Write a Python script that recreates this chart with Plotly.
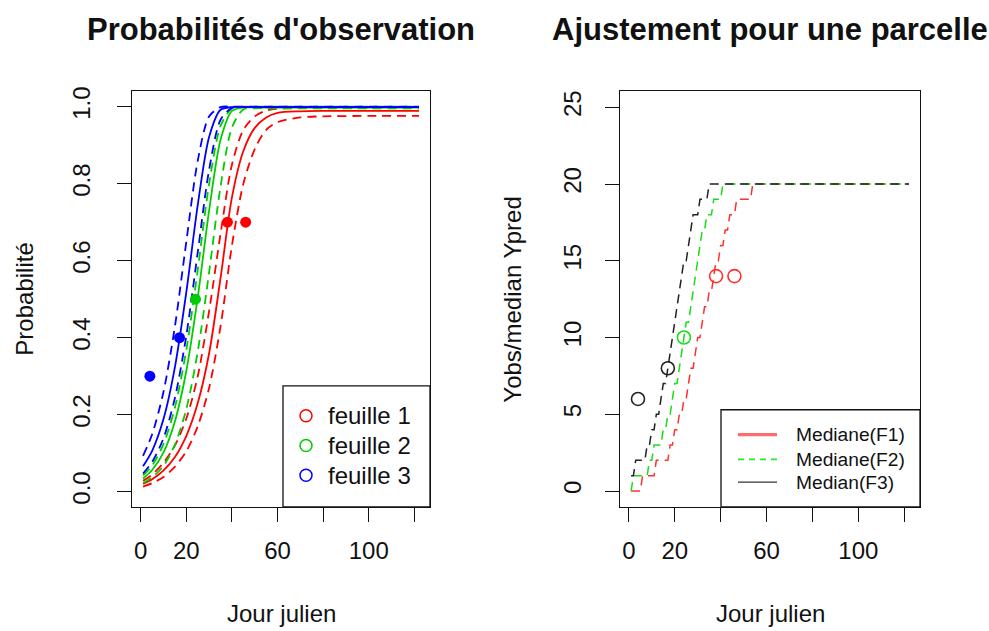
import plotly.graph_objects as go

# ---------------- data ----------------
days = [1, 5, 10, 15, 20, 25, 30, 35, 40, 45, 50, 55, 60, 70, 80, 100, 122]

# feuille 1 (red): upper quantile, median, lower quantile
f1_hi = [0.028, 0.044, 0.075, 0.120, 0.190, 0.300, 0.470, 0.670, 0.850, 0.940, 0.975, 0.990, 0.995, 0.997, 0.997, 0.997, 0.997]
f1_med = [0.020, 0.032, 0.055, 0.090, 0.145, 0.230, 0.360, 0.555, 0.765, 0.885, 0.945, 0.972, 0.984, 0.988, 0.989, 0.989, 0.989]
f1_lo = [0.013, 0.022, 0.038, 0.065, 0.105, 0.170, 0.270, 0.430, 0.640, 0.800, 0.890, 0.940, 0.960, 0.972, 0.975, 0.976, 0.976]
# feuille 2 (green)
f2_hi = [0.042, 0.068, 0.124, 0.219, 0.369, 0.577, 0.800, 0.950, 0.996, 1.000, 1.000, 1.000, 1.000, 1.000, 1.000, 1.000, 1.000]
f2_med = [0.034, 0.056, 0.102, 0.183, 0.314, 0.505, 0.731, 0.914, 0.989, 0.998, 0.998, 0.998, 0.998, 0.998, 0.998, 0.998, 0.998]
f2_lo = [0.022, 0.037, 0.067, 0.122, 0.215, 0.364, 0.571, 0.793, 0.946, 0.993, 0.996, 0.996, 0.996, 0.996, 0.996, 0.996, 0.996]
# feuille 3 (blue)
f3_hi = [0.093, 0.149, 0.260, 0.430, 0.650, 0.860, 0.975, 0.999, 1.000, 1.000, 1.000, 1.000, 1.000, 1.000, 1.000, 1.000, 1.000]
f3_med = [0.066, 0.106, 0.189, 0.324, 0.519, 0.745, 0.922, 0.992, 0.999, 0.999, 0.999, 0.999, 0.999, 0.999, 0.999, 0.999, 0.999]
f3_lo = [0.047, 0.077, 0.139, 0.244, 0.406, 0.622, 0.837, 0.966, 0.997, 0.999, 0.999, 0.999, 0.999, 0.999, 0.999, 0.999, 0.999]

# observations
obs_day_f1 = [38, 46]
obs_p_f1 = [0.7, 0.7]
obs_y_f1 = [14, 14]
obs_day_f2 = [24]
obs_p_f2 = [0.5]
obs_y_f2 = [10]
obs_day_f3 = [4, 17]
obs_p_f3 = [0.3, 0.4]
obs_y_f3 = [6, 8]

# median predicted counts: first day at which each value is reached
step_day_f1 = [1, 6, 12, 18, 20, 22, 24, 26, 27, 29, 30, 32, 33, 35, 37, 38, 40, 42, 44, 47, 54]
step_val_f1 = [0, 1, 2, 3, 4, 5, 6, 7, 8, 9, 10, 11, 12, 13, 14, 15, 16, 17, 18, 19, 20]
step_day_f2 = [1, 2, 9, 11, 15, 17, 19, 20, 22, 23, 24, 25, 27, 28, 29, 30, 31, 32, 34, 37, 41]
step_val_f2 = [0, 1, 2, 3, 4, 5, 6, 7, 8, 9, 10, 11, 12, 13, 14, 15, 16, 17, 18, 19, 20]
step_day_f3 = [1, 3, 8, 10, 12, 14, 15, 17, 18, 19, 20, 21, 22, 23, 24, 26, 27, 28, 31, 35]
step_val_f3 = [1, 2, 3, 4, 5, 6, 7, 8, 9, 10, 11, 12, 13, 14, 15, 16, 17, 18, 19, 20]
first_day, last_day = 1, 122

x_ticks = [0, 20, 40, 60, 80, 100, 120]
x_tick_labels = ["0", "20", "", "60", "", "100", ""]
y1_ticks = [0.0, 0.2, 0.4, 0.6, 0.8, 1.0]
y1_tick_labels = ["0.0", "0.2", "0.4", "0.6", "0.8", "1.0"]
y2_ticks = [0, 5, 10, 15, 20, 25]
y2_tick_labels = ["0", "5", "10", "15", "20", "25"]

leaf_names = ["feuille 1", "feuille 2", "feuille 3"]
median_names = ["Mediane(F1)", "Mediane(F2)", "Median(F3)"]

# ---------------- styles ----------------
FONT = "Liberation Sans, Arial, Helvetica, sans-serif"
RED, GREEN, BLUE = "#FF0000", "#00CD00", "#0000FF"
RED2, GREEN2, BLACK2 = "#FF3030", "#18DD18", "#222222"
DASH = "9px,6px"
W, H = 989, 631


def px2x(p):
    return p / W


def px2y(p):
    return 1 - p / H


def daily(change_days, values):
    xs = list(range(first_day, last_day + 1))
    ys = []
    for d in xs:
        v = values[0]
        for cd, cv in zip(change_days, values):
            if cd <= d:
                v = cv
        ys.append(v)
    return xs, ys


fig = go.Figure()


def curve(y, color, dash):
    fig.add_trace(go.Scatter(x=days, y=y, mode="lines", xaxis="x", yaxis="y",
                             line=dict(color=color, width=1.8, dash=dash, shape="spline", smoothing=0.8),
                             showlegend=False, hoverinfo="skip"))


for hi, med, lo, col in [(f1_hi, f1_med, f1_lo, RED), (f2_hi, f2_med, f2_lo, GREEN), (f3_hi, f3_med, f3_lo, BLUE)]:
    curve(med, col, "solid")
    curve(hi, col, DASH)
    curve(lo, col, DASH)

for dx, dy, col in [(obs_day_f1, obs_p_f1, RED), (obs_day_f2, obs_p_f2, GREEN), (obs_day_f3, obs_p_f3, BLUE)]:
    fig.add_trace(go.Scatter(x=dx, y=dy, mode="markers", marker=dict(color=col, size=11, symbol="circle"),
                             showlegend=False, hoverinfo="skip"))

# right panel median predicted counts (daily values joined by lines)
for sx, sy, col in [(step_day_f1, step_val_f1, RED2), (step_day_f2, step_val_f2, GREEN2), (step_day_f3, step_val_f3, BLACK2)]:
    dx, dy = daily(sx, sy)
    fig.add_trace(go.Scatter(x=dx, y=dy, mode="lines", xaxis="x2", yaxis="y2",
                             line=dict(color=col, width=1.5, dash=DASH),
                             showlegend=False, hoverinfo="skip"))

for dx, dy, col in [(obs_day_f1, obs_y_f1, RED2), (obs_day_f2, obs_y_f2, GREEN2), (obs_day_f3, obs_y_f3, BLACK2)]:
    fig.add_trace(go.Scatter(x=dx, y=dy, mode="markers", xaxis="x2", yaxis="y2",
                             marker=dict(color=col, size=13, symbol="circle-open", line=dict(width=1.6)),
                             showlegend=False, hoverinfo="skip"))

axis_common = dict(showline=True, mirror=True, linecolor="#111", linewidth=1.3,
                   ticks="outside", ticklen=14, tickwidth=1.3, tickcolor="#111",
                   showgrid=False, zeroline=False, fixedrange=True,
                   tickfont=dict(family=FONT, size=24, color="#111"))

shapes = []
annotations = []

# legend 1 (manual box, open circles, labels)
leg1_rows = [414, 444, 474]
shapes.append(dict(type="rect", xref="paper", yref="paper", x0=px2x(283), x1=px2x(430), y0=px2y(506), y1=px2y(384),
                   line=dict(color="#111", width=1.3), fillcolor="white", layer="below"))
for name, col, ry in zip(leaf_names, [RED, GREEN, BLUE], leg1_rows):
    shapes.append(dict(type="circle", xref="paper", yref="paper", x0=px2x(300), x1=px2x(312),
                       y0=px2y(ry + 6), y1=px2y(ry - 6), line=dict(color=col, width=1.5)))
    annotations.append(dict(text=name, x=px2x(326), y=px2y(ry), xref="paper", yref="paper", showarrow=False,
                            xanchor="left", yanchor="middle", font=dict(family=FONT, size=24, color="#111")))

# legend 2 (manual box, line samples, labels)
leg2_rows = [433, 458, 481]
leg2_styles = [("#FF6A6A", 3.2, "solid"), ("#22EE22", 1.8, "6px,5px"), ("#333333", 1.2, "solid")]
shapes.append(dict(type="rect", xref="paper", yref="paper", x0=px2x(721), x1=px2x(920), y0=px2y(506), y1=px2y(408),
                   line=dict(color="#111", width=1.3), fillcolor="white", layer="below"))
for name, (col, wdt, dsh), ry in zip(median_names, leg2_styles, leg2_rows):
    shapes.append(dict(type="line", xref="paper", yref="paper", x0=px2x(738), x1=px2x(777),
                       y0=px2y(ry), y1=px2y(ry), line=dict(color=col, width=wdt, dash=dsh)))
    annotations.append(dict(text=name, x=px2x(794), y=px2y(ry), xref="paper", yref="paper", showarrow=False,
                            xanchor="left", yanchor="middle", font=dict(family=FONT, size=19.2, color="#111")))

annotations += [
    dict(text="Probabilités d'observation", x=px2x(281), y=px2y(25), xref="paper", yref="paper",
         showarrow=False, xanchor="center", yanchor="middle",
         font=dict(family=FONT, size=31, color="#111", weight="bold")),
    dict(text="Ajustement pour une parcelle", x=px2x(770), y=px2y(25), xref="paper", yref="paper",
         showarrow=False, xanchor="center", yanchor="middle",
         font=dict(family=FONT, size=31, color="#111", weight="bold")),
    dict(text="Jour julien", x=px2x(281), y=px2y(613), xref="paper", yref="paper", showarrow=False,
         xanchor="center", yanchor="middle", font=dict(family=FONT, size=24, color="#111")),
    dict(text="Jour julien", x=px2x(770), y=px2y(613), xref="paper", yref="paper", showarrow=False,
         xanchor="center", yanchor="middle", font=dict(family=FONT, size=24, color="#111")),
    dict(text="Probabilité", x=px2x(25), y=px2y(297), xref="paper", yref="paper", showarrow=False,
         textangle=-90, xanchor="center", yanchor="middle", font=dict(family=FONT, size=24, color="#111")),
    dict(text="Yobs/median Ypred", x=px2x(513), y=px2y(297), xref="paper", yref="paper", showarrow=False,
         textangle=-90, xanchor="center", yanchor="middle", font=dict(family=FONT, size=24, color="#111")),
]

fig.update_layout(
    width=W, height=H, margin=dict(l=0, r=0, t=0, b=0),
    paper_bgcolor="white", plot_bgcolor="white",
    showlegend=False,
    xaxis=dict(domain=[px2x(132), px2x(430)], range=[-3.84, 126.84], tickvals=x_ticks, ticktext=x_tick_labels,
               anchor="y", ticklabelstandoff=8, **axis_common),
    yaxis=dict(domain=[px2y(506), px2y(87)], range=[-0.04, 1.04], tickvals=y1_ticks, ticktext=y1_tick_labels,
               anchor="x", tickangle=-90, ticklabelstandoff=17, **axis_common),
    xaxis2=dict(domain=[px2x(620), px2x(920)], range=[-3.84, 126.84], tickvals=x_ticks, ticktext=x_tick_labels,
                anchor="y2", ticklabelstandoff=8, **axis_common),
    yaxis2=dict(domain=[px2y(506), px2y(87)], range=[-1.04, 26.04], tickvals=y2_ticks, ticktext=y2_tick_labels,
                anchor="x2", tickangle=-90, ticklabelstandoff=14, **axis_common),
    shapes=shapes,
    annotations=annotations,
)

fig.write_html("out.html")
